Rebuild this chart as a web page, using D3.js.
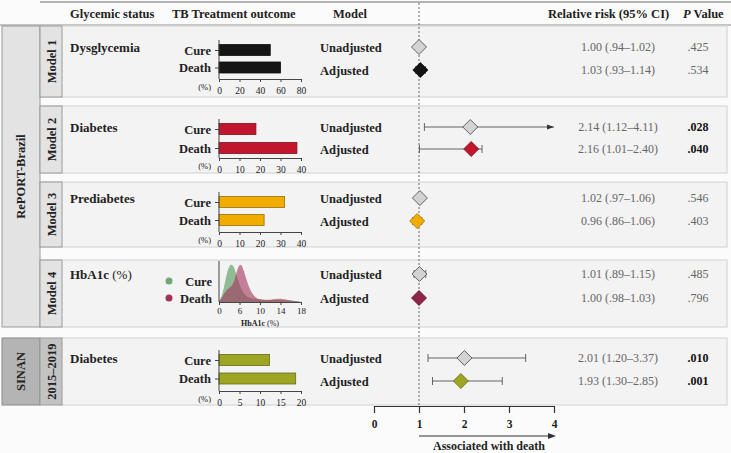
<!DOCTYPE html>
<html><head><meta charset="utf-8">
<script src="https://cdn.jsdelivr.net/npm/d3@7"></script>
<style>
html,body{margin:0;padding:0;background:#fbfbfb;}
svg{display:block;font-family:"Liberation Serif","DejaVu Serif",serif;}
</style></head>
<body><svg id="c" width="731" height="453"></svg>
<script>
// ---------------- DATA ----------------
const tabLabels = ["Model 1","Model 2","Model 3","Model 4","2015–2019"];
const groupLabels = ["RePORT-Brazil","SINAN"];
const glycemic = ["Dysglycemia","Diabetes","Prediabetes","HbA1c","Diabetes"];
const outcomes = ["Cure","Death"];
const cureValues  = [50, 18, 32, null, 12.3];
const deathValues = [60, 38, 22, null, 18.7];
const barMax   = [80, 40, 40, null, 20];
const barTicks = [[0,20,40,60,80],[0,10,20,30,40],[0,10,20,30,40],null,[0,5,10,15,20]];
const barColors = ["#151515","#c2162f","#f0ad00",null,"#9da523"];
const diamondColors = ["#151515","#c2162f","#f0ad00","#8c2547","#9da523"];
const modelLabels = ["Unadjusted","Adjusted"];
const rrUnadj = [1.00, 2.14, 1.02, 1.01, 2.01];
const loUnadj = [0.94, 1.12, 0.97, 0.89, 1.20];
const hiUnadj = [1.02, 4.11, 1.06, 1.15, 3.37];
const rrAdj   = [1.03, 2.16, 0.96, 1.00, 1.93];
const loAdj   = [0.93, 1.01, 0.86, 0.98, 1.30];
const hiAdj   = [1.14, 2.40, 1.06, 1.03, 2.85];
const rrTextUnadj = ["1.00 (.94–1.02)","2.14 (1.12–4.11)","1.02 (.97–1.06)","1.01 (.89–1.15)","2.01 (1.20–3.37)"];
const rrTextAdj   = ["1.03 (.93–1.14)","2.16 (1.01–2.40)","0.96 (.86–1.06)","1.00 (.98–1.03)","1.93 (1.30–2.85)"];
const pUnadj = [".425",".028",".546",".485",".010"];
const pAdj   = [".534",".040",".403",".796",".001"];
const sigUnadj = [false,true,false,false,true];
const sigAdj   = [false,true,false,false,true];
const forestTicks = [0,1,2,3,4];
// HbA1c density
const hbX    = [2,2.5,3,3.5,4,4.5,5,5.5,6,6.5,7,7.5,8,8.5,9,10,11,12,13,14,15,16,17,18];
const hbCure = [0.02,0.12,0.4,0.75,0.95,1.0,0.9,0.68,0.45,0.3,0.2,0.14,0.1,0.09,0.08,0.07,0.06,0.055,0.05,0.05,0.045,0.04,0.03,0.0];
const hbDeath= [0.02,0.1,0.22,0.32,0.37,0.42,0.55,0.82,1.0,0.97,0.75,0.52,0.35,0.22,0.13,0.06,0.05,0.06,0.08,0.09,0.07,0.04,0.02,0.0];
const hbTickValues = [2,6,10,14,18];
const hbTickLabels = ["0","6","10","14","18"];

// ---------------- LAYOUT ----------------
const svg = d3.select("#c");
const W = 731;
const L = [
 {y0:26, y1:97,  un:47,  ad:70,  cure:50,  death:67.5, axis:79},
 {y0:106,y1:173, un:127, ad:149, cure:129, death:148,  axis:158},
 {y0:182,y1:247, un:198, ad:221, cure:202, death:220,  axis:232},
 {y0:260,y1:327, un:274, ad:298, axis:302},
 {y0:338,y1:405, un:358, ad:381, cure:360, death:378.5,axis:391}
];
const ink = "#222";
const fx = d3.scaleLinear().domain([0,4]).range([374,554]);
const barX0 = 219, barX1 = 301;

// header lines
svg.append("line").attr("x1",40).attr("x2",W).attr("y1",2).attr("y2",2).attr("stroke","#9a9a9a").attr("stroke-width",1.5);
svg.append("line").attr("x1",0).attr("x2",W).attr("y1",25).attr("y2",25).attr("stroke","#b0b0b0").attr("stroke-width",1.5);

const hdr = svg.append("g").attr("font-weight","bold").attr("font-size",12.5).attr("fill",ink);
hdr.append("text").attr("x",70).attr("y",18).text("Glycemic status");
hdr.append("text").attr("x",172).attr("y",18).text("TB Treatment outcome");
hdr.append("text").attr("x",333).attr("y",18).text("Model");
hdr.append("text").attr("x",548).attr("y",18).text("Relative risk (95% CI)");
const pv = hdr.append("text").attr("x",683).attr("y",18);
pv.append("tspan").attr("font-style","italic").text("P");
pv.append("tspan").text(" Value");

// row panels
L.forEach((p,i)=>{
  svg.append("rect").attr("x", i===4?60:40).attr("y",p.y0).attr("width",727-(i===4?60:40)).attr("height",p.y1-p.y0)
    .attr("fill","#f3f3f3").attr("stroke","#d8d8d8").attr("stroke-width",1.2);
});
// group boxes
svg.append("rect").attr("x",2).attr("y",L[0].y0).attr("width",38).attr("height",L[3].y1-L[0].y0)
  .attr("fill","#e3e3e3").attr("stroke","#9a9a9a");
svg.append("rect").attr("x",2).attr("y",L[4].y0).attr("width",38).attr("height",L[4].y1-L[4].y0)
  .attr("fill","#b4b4b4").attr("stroke","#8a8a8a");
svg.append("text").attr("transform",`translate(25,${(L[0].y0+L[3].y1)/2}) rotate(-90)`).attr("text-anchor","middle")
  .attr("font-weight","bold").attr("font-size",12.5).attr("fill",ink).text(groupLabels[0]);
svg.append("text").attr("transform",`translate(25,${(L[4].y0+L[4].y1)/2}) rotate(-90)`).attr("text-anchor","middle")
  .attr("font-weight","bold").attr("font-size",12.5).attr("fill",ink).text(groupLabels[1]);
// tabs
L.forEach((p,i)=>{
  svg.append("rect").attr("x",40).attr("y",p.y0).attr("width",22).attr("height",p.y1-p.y0)
    .attr("fill", i===4?"#c3c3c3":"#e3e3e3").attr("stroke","#9a9a9a");
  svg.append("text").attr("transform",`translate(55.5,${(p.y0+p.y1)/2}) rotate(-90)`).attr("text-anchor","middle")
    .attr("font-weight","bold").attr("font-size",12.5).attr("fill",ink).text(tabLabels[i]);
});

// dashed reference line
svg.append("line").attr("x1",fx(1)).attr("x2",fx(1)).attr("y1",3).attr("y2",406)
  .attr("stroke","#666").attr("stroke-dasharray","2,2").attr("stroke-width",1);

// rows
L.forEach((p,i)=>{
  const g = svg.append("g");
  const gl = g.append("text").attr("x",70).attr("y",p.un+5).attr("font-size",13).attr("fill",ink);
  gl.append("tspan").attr("font-weight","bold").text(glycemic[i]);
  if(i===3) gl.append("tspan").text(" (%)");
  g.append("text").attr("x",320).attr("y",p.un+4.5).attr("font-weight","bold").attr("font-size",12.5).attr("fill",ink).text(modelLabels[0]);
  g.append("text").attr("x",320).attr("y",p.ad+4.5).attr("font-weight","bold").attr("font-size",12.5).attr("fill",ink).text(modelLabels[1]);
  [[rrTextUnadj,pUnadj,sigUnadj,p.un],[rrTextAdj,pAdj,sigAdj,p.ad]].forEach(([rt,pt,sg,yy])=>{
    g.append("text").attr("x",618).attr("y",yy+4).attr("text-anchor","middle").attr("font-size",12).attr("fill","#666").text(rt[i]);
    g.append("text").attr("x",698).attr("y",yy+4).attr("text-anchor","middle").attr("font-size",12)
      .attr("font-weight",sg[i]?"bold":"normal").attr("fill",sg[i]?"#111":"#666").text(pt[i]);
  });

  if(i!==3){
    const xs = d3.scaleLinear().domain([0,barMax[i]]).range([barX0,barX1]);
    const ys = d3.scalePoint().domain(outcomes).range([p.cure,p.death]);
    const vals = [cureValues[i],deathValues[i]];
    g.selectAll("rect.bar").data(outcomes).join("rect").attr("class","bar")
      .attr("x",xs(0)).attr("y",d=>ys(d)-5.5).attr("height",11)
      .attr("width",(d,k)=>xs(vals[k])-xs(0))
      .attr("fill",barColors[i]).attr("stroke",d3.color(barColors[i]).darker(1.2)).attr("stroke-width",0.8);
    const ax = g.append("g").attr("transform",`translate(0,${p.axis})`)
      .call(d3.axisBottom(xs).tickValues(barTicks[i]).tickSize(3).tickSizeOuter(0));
    ax.select(".domain").attr("stroke","#444");
    ax.selectAll(".tick line").attr("stroke","#444");
    ax.selectAll("text").attr("font-family","Liberation Serif, serif").attr("font-size",9.5).attr("fill",ink).attr("dy","0.9em");
    g.append("text").attr("x",211).attr("y",p.axis+11).attr("text-anchor","end").attr("font-size",8.5).attr("fill",ink).text("(%)");
    const ay = g.append("g").attr("transform",`translate(${barX0},0)`)
      .call(d3.axisLeft(ys).tickSize(4).tickSizeOuter(0));
    ay.select(".domain").remove();
    ay.selectAll(".tick line").attr("stroke","#444");
    ay.selectAll("text").attr("font-family","Liberation Serif, serif").attr("font-size",12.5).attr("font-weight","bold").attr("fill",ink).attr("dx","-1");
    g.append("line").attr("x1",barX0).attr("x2",barX0).attr("y1",p.cure-10).attr("y2",p.axis).attr("stroke","#444");
  } else {
    const xs = d3.scaleLinear().domain([2,18]).range([barX0,barX1]);
    const ys = d3.scaleLinear().domain([0,1.05]).range([p.axis,p.axis-40]);
    const area = d3.area().x((d,k)=>xs(hbX[k])).y0(p.axis).y1(d=>ys(d)).curve(d3.curveBasis);
    g.append("path").datum(hbCure).attr("d",area).attr("fill","#6fa874").attr("fill-opacity",0.75);
    g.append("path").datum(hbDeath).attr("d",area).attr("fill","#a3325a").attr("fill-opacity",0.6);
    const ax = g.append("g").attr("transform",`translate(0,${p.axis})`)
      .call(d3.axisBottom(xs).tickValues(hbTickValues).tickFormat((d,k)=>hbTickLabels[k]).tickSize(3).tickSizeOuter(0));
    ax.select(".domain").attr("stroke","#444");
    ax.selectAll(".tick line").attr("stroke","#444");
    ax.selectAll("text").attr("font-family","Liberation Serif, serif").attr("font-size",9).attr("fill",ink).attr("dy","0.72em");
    g.append("line").attr("x1",barX0).attr("x2",barX0).attr("y1",p.axis-41).attr("y2",p.axis).attr("stroke","#444");
    const hl = g.append("text").attr("x",(barX0+barX1)/2).attr("y",p.axis+24).attr("text-anchor","middle").attr("font-size",8).attr("fill",ink);
    hl.append("tspan").attr("font-weight","bold").text("HbA1c");
    hl.append("tspan").text(" (%)");
    const legY = [281,298];
    const legC = ["#6fa874","#a3325a"];
    outcomes.forEach((o,k)=>{
      g.append("circle").attr("cx",169).attr("cy",legY[k]).attr("r",3.5).attr("fill",legC[k]);
      g.append("text").attr("x",212).attr("y",legY[k]+4.5).attr("text-anchor","end").attr("font-weight","bold").attr("font-size",12.5).attr("fill",ink).text(o);
    });
  }

  [[rrUnadj,loUnadj,hiUnadj,p.un,"#d3d3d3"],[rrAdj,loAdj,hiAdj,p.ad,diamondColors[i]]].forEach(([rr,lo,hi,yy,col])=>{
    const x1 = fx(lo[i]);
    const over = hi[i] > 4;
    const x2 = over ? fx(4) : fx(hi[i]);
    g.append("line").attr("x1",x1).attr("x2",x2).attr("y1",yy).attr("y2",yy).attr("stroke","#555").attr("stroke-width",0.9);
    g.append("line").attr("x1",x1).attr("x2",x1).attr("y1",yy-4).attr("y2",yy+4).attr("stroke","#555").attr("stroke-width",0.9);
    if(over){
      g.append("path").attr("d",`M${x2},${yy}l-7,-2.5l0,5z`).attr("fill","#333");
    } else {
      g.append("line").attr("x1",x2).attr("x2",x2).attr("y1",yy-4).attr("y2",yy+4).attr("stroke","#555").attr("stroke-width",0.9);
    }
    const cx = fx(rr[i]);
    g.append("path").attr("d",`M${cx-7.5},${yy}L${cx},${yy-7.5}L${cx+7.5},${yy}L${cx},${yy+7.5}Z`)
      .attr("fill",col).attr("stroke", col==="#d3d3d3"?"#555":d3.color(col).darker(1)).attr("stroke-width",0.9);
  });
});

// forest axis
const fa = svg.append("g").attr("transform","translate(0,406)")
  .call(d3.axisBottom(fx).tickValues(forestTicks).tickSize(7).tickSizeOuter(0).tickFormat(d3.format("d")));
fa.select(".domain").attr("stroke","#333").attr("stroke-width",1.2);
fa.selectAll(".tick line").attr("stroke","#333").attr("stroke-width",1.2);
fa.selectAll("text").attr("font-family","Liberation Serif, serif").attr("font-size",11.5).attr("font-weight","bold").attr("fill",ink).attr("dy","1.05em");
svg.append("line").attr("x1",fx(1)).attr("x2",fx(4)-5).attr("y1",436).attr("y2",436).attr("stroke","#333").attr("stroke-width",1);
svg.append("path").attr("d",`M${fx(4)+2},436l-8,-3l0,6z`).attr("fill","#333");
svg.append("text").attr("x",489).attr("y",450).attr("text-anchor","middle").attr("font-weight","bold").attr("font-size",12).attr("fill",ink).text("Associated with death");
</script></body></html>
